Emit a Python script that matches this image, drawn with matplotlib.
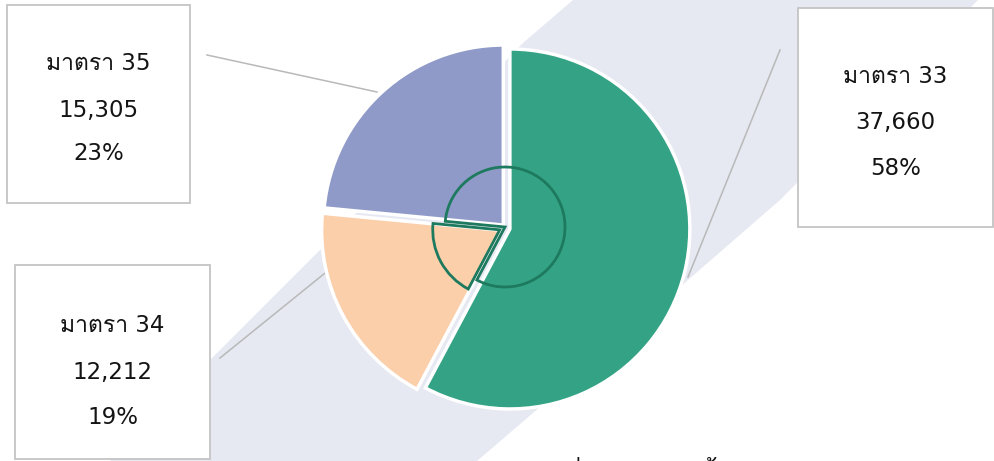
import matplotlib
matplotlib.use("Agg")
import matplotlib.pyplot as plt
from matplotlib.patches import Wedge, Rectangle, Polygon
import numpy as np

# ---- data ----
categories = ["มาตรา 33", "มาตรา 34", "มาตรา 35"]
values = [37660, 12212, 15305]
percents = ["58%", "19%", "23%"]
colors = ["#34a385", "#fccfab", "#8f9ac8"]
title = "จำนวนคนที่ลงทะเบียนทั้งหมด"

W, H = 995, 461
plt.rcParams["font.family"] = ["DejaVu Sans", "Loma"]

fig = plt.figure(figsize=(W / 100, H / 100), dpi=100)
ax = fig.add_axes([0, 0, 1, 1])


def Y(y):
    return H - y


# main pie (explode is in pixel units here since radius is in pixels)
cx, cy, R = 506, 228, 180
ax.pie(values, colors=colors, startangle=90, counterclock=False,
       explode=[4, 5, 4], center=(cx, Y(cy)), radius=R,
       wedgeprops=dict(edgecolor="white", linewidth=2.5, zorder=3), frame=True)
ax.set_xlim(0, W)
ax.set_ylim(0, H)
ax.set_aspect("equal")
ax.axis("off")

# background diagonal band
band_left = [(590, -15), (573, 0), (523, 43), (320, 250), (213, 357), (110, 461), (90, 480)]
band_right = [(455, 480), (477, 461), (688, 280), (780, 200), (978, 0), (990, -12)]
ax.add_patch(Polygon([(x, Y(y)) for x, y in band_left + band_right], closed=True,
                     facecolor="#e6e8f2", edgecolor="none", zorder=0))

# inner outlined pie icon (built from the same shares)
fr = np.array(values) / sum(values)
ends = 90 - 360 * np.cumsum(fr)          # clockwise from 12 o'clock
starts = np.concatenate([[90], ends[:-1]])
ic = "#1e7a5e"
# green + purple merged outline
ax.add_patch(Wedge((cx - 1, Y(cy - 1)), 60, ends[0], ends[1] + 360,
                   fill=False, edgecolor=ic, linewidth=2.0, zorder=5))
# peach slice exploded
mid = np.deg2rad((starts[1] + ends[1]) / 2)
off = 6
ax.add_patch(Wedge((cx - 1 + off * np.cos(mid), Y(cy - 1) + off * np.sin(mid)), 67,
                   ends[1], starts[1], fill=False, edgecolor=ic, linewidth=2.0, zorder=5))

# leader lines
lc = "#b9b9b9"
leaders = [((780, 50), (688, 277)), ((220, 358), (335, 265)), ((207, 55), (377, 92))]
for (x0, y0), (x1, y1) in leaders:
    ax.plot([x0, x1], [Y(y0), Y(y1)], color=lc, linewidth=1.1, zorder=2)

# label boxes
boxes = [(798, 8, 993, 227), (15, 265, 210, 459), (7, 5, 190, 203)]
line_y = [(76, 122, 168), (325, 372, 417), (63, 110, 153)]
for i, (x0, y0, x1, y1) in enumerate(boxes):
    ax.add_patch(Rectangle((x0, Y(y1)), x1 - x0, y1 - y0, facecolor="white",
                           edgecolor="#c4c4c4", linewidth=1.3, zorder=6))
    xc = (x0 + x1) / 2
    texts = [categories[i], f"{values[i]:,}", percents[i]]
    for t, yy in zip(texts, line_y[i]):
        ax.text(xc, Y(yy), t, ha="center", va="center", fontsize=16.5,
                color="#141414", zorder=7)

# cut-off title at bottom (only the tallest marks remain visible)
ax.text(452, Y(485), title, ha="left", va="baseline", fontsize=18.5,
        color="#141414", zorder=7, clip_on=False)

fig.savefig("out.png", dpi=100, facecolor="white")
